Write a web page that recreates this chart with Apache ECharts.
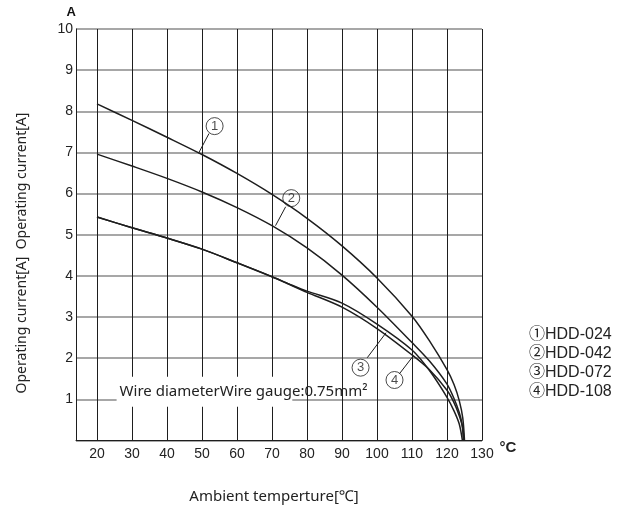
<!DOCTYPE html>
<html>
<head>
<meta charset="utf-8">
<script src="https://cdn.jsdelivr.net/npm/echarts@6/dist/echarts.min.js"></script>
<style>html,body{margin:0;padding:0;background:#fff}#c{width:622px;height:508px}</style>
</head>
<body>
<div id="c"></div>
<script>
// ---- data ----
const xTicks = [20,30,40,50,60,70,80,90,100,110,120,130];
const yTicks = [1,2,3,4,5,6,7,8,9,10];
const seriesNames = ['①HDD-024','②HDD-042','③HDD-072','④HDD-108'];
const temps1 = [20,30,40,50,60,70,80,90,100,110,115,120,122,123.5,124.5,125];
const hdd024 = [8.18,7.78,7.37,6.95,6.49,5.98,5.40,4.73,3.95,3.02,2.42,1.72,1.36,0.97,0.55,0];
const temps2 = [20,30,40,50,60,70,80,90,100,110,115,120,122,123.5,124.3,124.7];
const hdd042 = [6.96,6.67,6.37,6.04,5.66,5.22,4.68,4.02,3.24,2.38,1.93,1.37,1.02,0.68,0.40,0];
const temps3 = [20,30,40,50,60,70,75,80,90,100,110,115,120,122,123.5,124.4];
const hdd072 = [5.43,5.17,4.92,4.65,4.32,3.98,3.80,3.63,3.34,2.83,2.20,1.70,1.05,0.72,0.40,0];
const temps4 = [20,30,40,50,60,70,75,80,90,100,110,115,120,122,123.5,124.5,124.8];
const hdd108 = [5.43,5.17,4.92,4.65,4.32,3.98,3.79,3.60,3.24,2.72,2.08,1.72,1.22,0.92,0.60,0.30,0];
// callout labels
const calloutText = ['1','2','3','4'];
const calloutCircle = [[53.6,7.64],[75.5,5.89],[95.3,1.77],[105.0,1.47]];
const leaderFrom = [[49.0,6.98],[71.0,5.22],[102.6,2.62],[110.4,2.06]];
const leaderTo = [[52.0,7.46],[73.9,5.68],[97.2,2.01],[106.4,1.62]];
const noteText = 'Wire diameterWire gauge:0.75mm²';
const noteBox = [[25.6,0.82],[75.8,1.55]];

const zip = (xs, ys) => xs.map((x, i) => [x, ys[i]]);
const curveData = [zip(temps1,hdd024), zip(temps2,hdd042), zip(temps3,hdd072), zip(temps4,hdd108)];

const ink = '#1e1e1e';
const series = curveData.map((d, i) => ({
  name: seriesNames[i], type: 'line', data: d, smooth: 0.3,
  symbol: 'none', lineStyle: {color: ink, width: 1.5}, itemStyle: {color: ink}, z: 3
}));
series.push({
  name: 'callouts', type: 'scatter', z: 4,
  data: calloutCircle.map((c, i) => ({value: c, name: calloutText[i]})),
  symbol: 'circle', symbolSize: 17,
  itemStyle: {color: 'rgba(255,255,255,0)', borderColor: ink, borderWidth: 1},
  label: {show: true, position: 'inside', formatter: p => p.name, color: ink, fontSize: 13, fontFamily: 'Liberation Sans'},
  markLine: {
    silent: true, symbol: 'none', animation: false,
    lineStyle: {color: ink, width: 1, type: 'solid'}, label: {show: false},
    data: leaderFrom.map((f, i) => [{coord: f}, {coord: leaderTo[i]}])
  },
  markArea: {
    silent: true,
    itemStyle: {color: '#ffffff'},
    label: {show: true, position: 'insideLeft', distance: 3, color: '#222', fontSize: 15, fontFamily: 'Noto Sans', formatter: noteText},
    data: [[{coord: noteBox[0]}, {coord: noteBox[1]}]]
  }
});

const chart = echarts.init(document.getElementById('c'), null, {renderer: 'canvas'});
chart.setOption({
  animation: false,
  backgroundColor: '#fff',
  grid: {left: 76, top: 29, right: 140, bottom: 67.5, containLabel: false},
  legend: {
    data: seriesNames, orient: 'vertical', left: 519, top: 320,
    icon: 'none', itemWidth: 0, itemHeight: 14, itemGap: 0,
    textStyle: {fontSize: 16, lineHeight: 19, color: '#222', fontFamily: 'Liberation Sans, Noto Sans CJK SC'},
    selectedMode: false
  },
  xAxis: {
    type: 'value', min: 14, max: 130,
    name: '°C', nameLocation: 'end', nameGap: 13,
    nameTextStyle: {fontSize: 15, fontWeight: 'bold', color: '#222', verticalAlign: 'top', fontFamily: 'Liberation Sans'},
    axisLine: {show: true, lineStyle: {color: ink, width: 1}},
    axisTick: {show: false, customValues: xTicks},
    axisLabel: {customValues: xTicks, margin: 7, fontSize: 14, color: '#222', fontFamily: 'Liberation Sans'},
    splitLine: {show: true, lineStyle: {color: ink, width: 1}}
  },
  yAxis: {
    type: 'value', min: 0, max: 10, interval: 1,
    name: 'A', nameLocation: 'end', nameGap: 10,
    nameTextStyle: {fontSize: 13, fontWeight: 'bold', color: '#111', align: 'right', fontFamily: 'Liberation Sans'},
    axisLine: {show: true, lineStyle: {color: ink, width: 1}},
    axisTick: {show: false},
    axisLabel: {margin: 3, fontSize: 14, color: '#222', fontFamily: 'Liberation Sans',
      formatter: v => (yTicks.indexOf(v) >= 0 ? String(v) : '')},
    splitLine: {show: true, lineStyle: {color: '#8a8a8a', width: 1.5}}
  },
  graphic: [
    {type: 'text', x: 22, y: 253, rotation: Math.PI / 2,
     style: {text: 'Operating current[A]  Operating current[A]', fill: '#222', font: '14px "Noto Sans"', textAlign: 'center', textVerticalAlign: 'middle'}},
    {type: 'text', x: 274, y: 497,
     style: {text: 'Ambient temperture[℃]', fill: '#222', font: '15px "Noto Sans"', textAlign: 'center', textVerticalAlign: 'middle'}}
  ],
  series: series
});
</script>
</body>
</html>
